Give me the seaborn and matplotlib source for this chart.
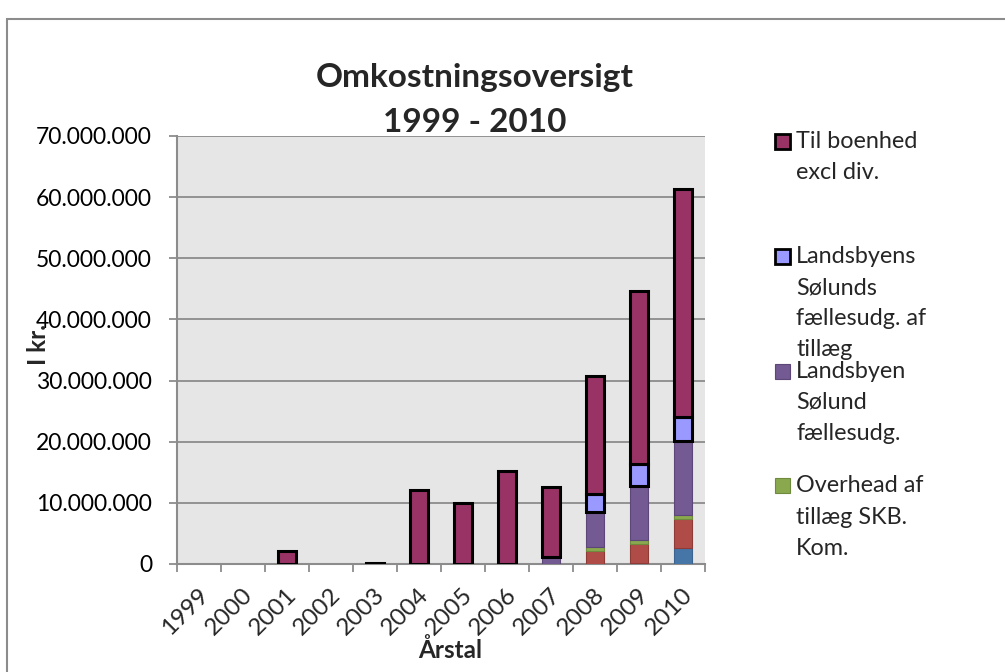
import numpy as np
import pandas as pd
import matplotlib
matplotlib.use("Agg")
import matplotlib.pyplot as plt
import matplotlib.transforms as mtrans
import seaborn as sns
from matplotlib.patches import Rectangle
from matplotlib.ticker import FuncFormatter

sns.set_theme(style="white")
plt.rcParams["font.family"] = ["Lato", "DejaVu Sans"]

# === Data (kr) ===
years = ["1999", "2000", "2001", "2002", "2003", "2004",
         "2005", "2006", "2007", "2008", "2009", "2010"]
blue_part = [0, 0, 0, 0, 0, 0, 0, 0, 0, 0, 200000, 2600000]
red_part = [0, 0, 0, 0, 0, 0, 0, 0, 0, 2200000, 3000000, 4700000]
overhead = [0, 0, 0, 0, 0, 0, 0, 0, 0, 500000, 700000, 700000]
faellesudg = [0, 0, 0, 0, 0, 0, 0, 0, 1200000, 5800000, 8800000, 12100000]
faellesudg_tillaeg = [0, 0, 0, 0, 0, 0, 0, 0, 0, 2900000, 3600000, 4000000]
til_boenhed = [0, 0, 2200000, 0, 150000, 12100000,
               10000000, 15200000, 11400000, 19400000, 28400000, 37200000]

series = [
    ("Blå", blue_part, "#4675A8", "#3A6390", 0.8),
    ("Rød", red_part, "#B04C48", "#8E3A37", 0.8),
    ("Overhead af\ntillæg SKB.\nKom.", overhead, "#8AA84E", "#6E8A3C", 0.8),
    ("Landsbyen\nSølund\nfællesudg.", faellesudg, "#745A93", "#5C4778", 0.8),
    ("Landsbyens\nSølunds\nfællesudg. af\ntillæg", faellesudg_tillaeg, "#9999FF", "black", 2.2),
    ("Til boenhed\nexcl div.", til_boenhed, "#993366", "black", 2.2),
]

# === Figure ===
fig = plt.figure(figsize=(10.05, 6.72), dpi=100)
fig.patch.set_facecolor("white")
fig.add_artist(Rectangle((7 / 1005, -0.05), 1.2, 1 - 19 / 672 + 0.05,
                         transform=fig.transFigure, fill=False,
                         edgecolor="#8C8C8C", linewidth=1.5))

ax = fig.add_axes([177 / 1005, (672 - 564) / 672, (705 - 177) / 1005, (564 - 136) / 672])
ax.set_facecolor("#E6E6E6")

bottom = np.zeros(len(years))
for name, vals, fc, ec, lw in series:
    df = pd.DataFrame({"year": years, "value": vals})
    sns.barplot(data=df, x="year", y="value", order=years, width=0.43,
                color=fc, saturation=1, edgecolor=ec, linewidth=lw,
                bottom=bottom.copy(), errorbar=None, ax=ax, zorder=3)
    bottom += np.array(vals, dtype=float)

# empty segments should not leave an outline
for p in ax.patches:
    if p.get_height() == 0:
        p.set_visible(False)

ax.set_ylim(0, 70000000)
ax.set_xlim(-0.5, 11.5)
ax.set_yticks(np.arange(0, 70000001, 10000000))
ax.yaxis.set_major_formatter(FuncFormatter(lambda v, p: f"{v:,.0f}".replace(",", ".")))
ax.yaxis.grid(True, color="#8C8C8C", linewidth=1.3, zorder=0)
ax.set_axisbelow(True)

for s in ["top", "right"]:
    ax.spines[s].set_visible(False)
for s in ["left", "bottom"]:
    ax.spines[s].set_color("#8C8C8C")
    ax.spines[s].set_linewidth(1.5)

ax.tick_params(axis="y", which="both", left=True, length=6, width=1.3,
               color="#8C8C8C", pad=12, labelsize=16.5, labelcolor="black")
ax.set_xticks(np.arange(-0.5, 12, 1), minor=True)
ax.set_xticks(np.arange(12))
ax.set_xticklabels(years, rotation=45, ha="right", va="center",
                   rotation_mode="anchor", fontsize=17.5)
ax.tick_params(axis="x", which="major", bottom=False, pad=14)
ax.tick_params(axis="x", which="minor", bottom=True, length=6, width=1.3, color="#8C8C8C")
shift = mtrans.ScaledTranslation(6 / 100, 0, fig.dpi_scale_trans)
for lab in ax.get_xticklabels():
    lab.set_transform(lab.get_transform() + shift)
ax.set_xlabel("")
ax.set_ylabel("")

# === Titles and axis labels ===
fig.text(475 / 1005, 1 - 78 / 672, "Omkostningsoversigt", ha="center", va="center",
         fontsize=24, fontweight="bold")
fig.text(475 / 1005, 1 - 122 / 672, "1999 - 2010", ha="center", va="center",
         fontsize=24, fontweight="bold")
fig.text(450 / 1005, 1 - 650 / 672, "Årstal", ha="center", va="center",
         fontsize=17.5, fontweight="bold")
fig.text(38 / 1005, 1 - 345 / 672, "I kr.", ha="center", va="center",
         rotation=90, fontsize=17.5, fontweight="bold")

# === Legend (only the visible entries) ===
legend_entries = series[::-1][:4]
for i, (name, vals, fc, ec, lw) in enumerate(legend_entries):
    y0 = 141.7 + i * 114.7
    fig.add_artist(Rectangle((775 / 1005, 1 - (y0 + 7.5) / 672), 15 / 1005, 15 / 672,
                             transform=fig.transFigure, facecolor=fc,
                             edgecolor=ec, linewidth=min(lw, 2.0)))
    for j, line in enumerate(name.split("\n")):
        fig.text(796 / 1005, 1 - (y0 + j * 31.2) / 672, line, ha="left",
                 va="center", fontsize=16.8)

fig.savefig("out.png", dpi=100)
